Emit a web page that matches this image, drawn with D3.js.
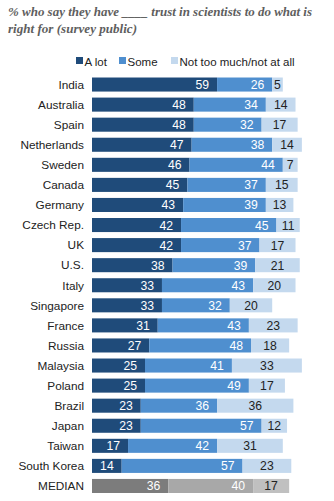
<!DOCTYPE html>
<html lang="en">
<head>
  <meta charset="UTF-8" />
  <title>Trust in scientists</title>
  <style>
    body { margin: 0; background: #fff; }
    svg text { font-family: 'Liberation Sans', Arial, sans-serif; }
    svg text.title { font-family: 'Liberation Serif', 'DejaVu Serif', Georgia, serif; font-style: italic; font-weight: bold; fill: #5e5e5e; }
  </style>
</head>
<body>
  <div id="chart"></div>
  <script src="https://d3js.org/d3.v7.min.js"></script>
  <script>
    const countries = ["India", "Australia", "Spain", "Netherlands", "Sweden", "Canada", "Germany",
      "Czech Rep.", "UK", "U.S.", "Italy", "Singapore", "France", "Russia", "Malaysia", "Poland",
      "Brazil", "Japan", "Taiwan", "South Korea", "MEDIAN"];
    const aLot = [59, 48, 48, 47, 46, 45, 43, 42, 42, 38, 33, 33, 31, 27, 25, 25, 23, 23, 17, 14, 36];
    const some = [26, 34, 32, 38, 44, 37, 39, 45, 37, 39, 43, 32, 43, 48, 41, 49, 36, 57, 42, 57, 40];
    const notMuch = [5, 14, 17, 14, 7, 15, 13, 11, 17, 21, 20, 20, 23, 18, 33, 17, 36, 12, 31, 23, 17];
    const seriesNames = ["A lot", "Some", "Not too much/not at all"];

    const width = 334, height = 501;
    const colors = ["#1f4b7a", "#4f8fcf", "#c4d9ee"];
    const medianColors = ["#7c7c7c", "#a8a8a8", "#c0c0c0"];

    const svg = d3.select("#chart").append("svg")
      .attr("width", width).attr("height", height);

    // title, two lines stretched to the reference widths
    const title = svg.append("text").attr("class", "title").attr("font-size", 13.5);
    title.append("tspan").attr("x", 8).attr("y", 16)
      .attr("textLength", 304).attr("lengthAdjust", "spacingAndGlyphs")
      .text("% who say they have ____ trust in scientists to do what is");
    title.append("tspan").attr("x", 8).attr("y", 32.5)
      .attr("textLength", 129).attr("lengthAdjust", "spacingAndGlyphs")
      .text("right for (survey public)");

    // legend
    const legendX = [76, 119, 171];
    seriesNames.forEach((name, i) => {
      svg.append("rect").attr("x", legendX[i]).attr("y", 57)
        .attr("width", 7).attr("height", 7).attr("fill", colors[i]);
      svg.append("text").attr("x", legendX[i] + 8.5).attr("y", 65.5)
        .attr("font-size", 11.5).attr("fill", "#222").text(name);
    });

    const x = d3.scaleLinear().domain([0, 100]).range([92, 304]);
    const y = d3.scaleBand().domain(countries).range([74.5, 496]).paddingInner(0.3).paddingOuter(0.15);

    const rows = countries.map((c, i) => ({ country: c, vals: [aLot[i], some[i], notMuch[i]] }));

    const g = svg.selectAll(".row").data(rows).enter().append("g")
      .attr("transform", d => `translate(0,${y(d.country)})`);

    g.append("text")
      .attr("x", 84).attr("y", y.bandwidth() / 2 + 4.3)
      .attr("text-anchor", "end").attr("font-size", 11.8).attr("fill", "#222")
      .text(d => d.country);

    g.each(function (d) {
      const row = d3.select(this);
      const isMedian = d.country === "MEDIAN";
      let start = 0;
      d.vals.forEach((v, i) => {
        const x0 = x(start), x1 = x(start + v);
        row.append("rect")
          .attr("x", x0).attr("y", 0)
          .attr("width", x1 - x0).attr("height", y.bandwidth())
          .attr("fill", isMedian ? medianColors[i] : colors[i]);
        const t = row.append("text")
          .attr("y", y.bandwidth() / 2 + 4.5)
          .attr("font-size", 12.2)
          .text(v);
        if (i < 2) {
          t.attr("x", x1 - 8).attr("text-anchor", "end").attr("fill", "#fff");
        } else {
          t.attr("x", (x0 + x1) / 2).attr("text-anchor", "middle").attr("fill", "#222");
        }
        start += v;
      });
    });
  </script>
</body>
</html>
